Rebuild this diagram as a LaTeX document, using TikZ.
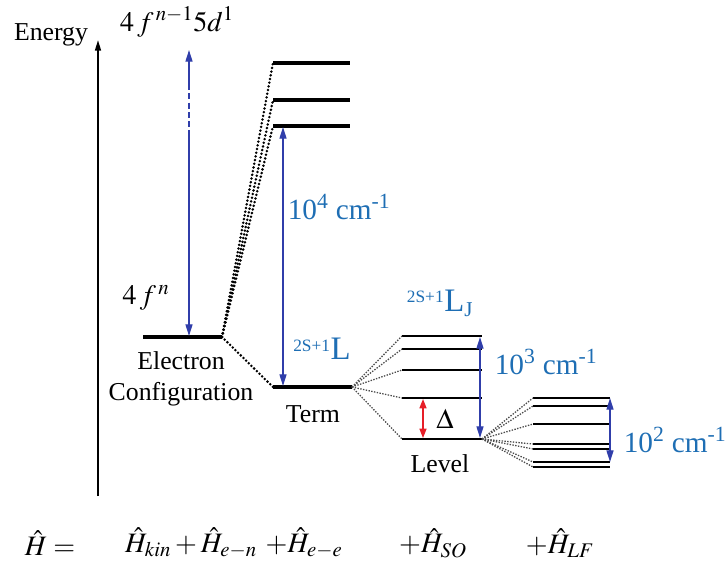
\documentclass[tikz,border=0pt]{standalone}
\usepackage{mathptmx}
\usepackage{fontspec}
\setmainfont{Liberation Serif}
\newfontfamily\tnr{Liberation Serif}
\usetikzlibrary{arrows.meta}

\definecolor{arrowblue}{RGB}{48,62,170}
\definecolor{textblue}{RGB}{30,110,180}
\definecolor{arrowred}{RGB}{230,30,40}

\begin{document}
\begin{tikzpicture}[x=0.03cm, y=-0.03cm,
  lev/.style={line width=4pt},
  sublev/.style={line width=1.8pt},
  bigdots/.style={line width=2.4pt, line cap=round, dash pattern=on 0pt off 3.2pt},
  fandots/.style={line width=1.1pt, dash pattern=on 1.2pt off 1.2pt, black!70},
  barr/.style={{Triangle[length=10pt,width=6pt]}-{Triangle[length=10pt,width=6pt]}, draw=arrowblue, fill=arrowblue, line width=1.2pt},
  lbl/.style={font=\tnr\fontsize{22}{26}\selectfont, inner sep=0pt, align=center},
  blbl/.style={lbl, font=\tnr\fontsize{25}{28}\selectfont, text=textblue}
]
\useasboundingbox (0,0) rectangle (728,561);

% energy axis
\coordinate (ax-bot) at (98,496);
\coordinate (ax-top) at (98,40);
\draw[line width=1.6pt, -{Triangle[length=9pt,width=5pt]}] (ax-bot) -- (ax-top);
\node[lbl] (energy) at (51,35) {Energy};

% electron configuration
\coordinate (cfg-l) at (143,337);
\coordinate (cfg-r) at (222,337);
\draw[lev] (cfg-l) -- (cfg-r);
\node[lbl, font=\fontsize{24}{26}\selectfont] (fn) at (146,298) {$4\,f^{\,n}$};
\node[lbl, font=\fontsize{24}{26}\selectfont] (fd) at (177,22) {$4\,f^{\,n-1}5d^{1}$};
\node[lbl] (cfg) at (181,379) {Electron\\Configuration};

% excited configuration levels
\foreach \n/\y in {a/63,b/100,c/126}{
  \coordinate (up\n-l) at (273,\y);
  \coordinate (up\n-r) at (350,\y);
  \draw[lev] (up\n-l) -- (up\n-r);
  \draw[bigdots] (cfg-r) -- (up\n-l);
}

% 4f -> 5d arrow
\coordinate (fd-top) at (189,50);
\coordinate (fd-d1) at (189,84);
\coordinate (fd-d2) at (189,130);
\coordinate (fd-bot) at (189,336);
\draw[arrowblue, line width=1.2pt, -{Triangle[length=10pt,width=6pt]}] (fd-d1) -- (fd-top);
\draw[arrowblue, line width=1.2pt, dash pattern=on 5pt off 3pt] (fd-d1) -- (fd-d2);
\draw[arrowblue, line width=1.2pt, -{Triangle[length=10pt,width=6pt]}] (fd-d2) -- (fd-bot);

% term
\coordinate (term-l) at (273,387);
\coordinate (term-r) at (352,387);
\draw[lev] (term-l) -- (term-r);
\draw[bigdots] (cfg-r) -- (term-l);
\node[lbl] (term) at (313,414) {Term};
\node[blbl] (termsym) at (322,349) {{\fontsize{20}{20}\selectfont\textsuperscript{2S+1}}\fontsize{28}{28}\selectfont L};

\coordinate (e4-top) at (283,127);
\coordinate (e4-bot) at (283,386);
\draw[barr] (e4-top) -- (e4-bot);
\node[blbl] (e4) at (339,207) {10\textsuperscript{4} cm\textsuperscript{-1}};

% levels (spin-orbit)
\foreach \i/\y in {1/336,2/349,3/370,4/398,5/439}{
  \coordinate (lv\i-l) at (402,\y);
  \coordinate (lv\i-r) at (482,\y);
  \draw[sublev] (lv\i-l) -- (lv\i-r);
  \draw[fandots] (term-r) -- (lv\i-l);
}
\node[blbl] (levsym) at (440,303) {{\fontsize{20}{20}\selectfont\textsuperscript{2S+1}}\fontsize{28}{28}\selectfont L\textsubscript{\fontsize{18}{18}\selectfont J}};
\node[lbl] (level) at (440,464) {Level};

\draw[barr] (480,337) coordinate (e3-top) -- (480,438) coordinate (e3-bot);
\node[blbl] (e3) at (546,362) {10\textsuperscript{3} cm\textsuperscript{-1}};

\draw[{Triangle[length=8pt,width=6pt]}-{Triangle[length=8pt,width=6pt]}, draw=arrowred, fill=arrowred, line width=1.2pt]
  (423,399) coordinate (dl-top) -- (423,438) coordinate (dl-bot);
\node[lbl, font=\fontsize{24}{26}\selectfont] (delta) at (445,419) {$\Delta$};

% ligand field
\foreach \i/\y in {1/398,2/406,3/424,4/444,5/449,6/462,7/467}{
  \coordinate (lf\i-l) at (533,\y);
  \coordinate (lf\i-r) at (610,\y);
  \draw[line width=1.5pt] (lf\i-l) -- (lf\i-r);
  \draw[fandots] (lv5-r) -- (lf\i-l);
}
\draw[barr] (610,398) coordinate (e2-top) -- (610,462) coordinate (e2-bot);
\node[blbl] (e2) at (675,440) {10\textsuperscript{2} cm\textsuperscript{-1}};

% hamiltonian
\begin{scope}[every node/.style={lbl, font=\fontsize{24}{26}\selectfont}]
\node (h0) at (50,543) {$\hat{H} =$};
\node (h1) at (191,543) {$\hat{H}_{kin}+\hat{H}_{e-n}$};
\node (h2) at (304,543) {$+\hat{H}_{e-e}$};
\node (h3) at (433,543) {$+\hat{H}_{SO}$};
\node (h4) at (560,543) {$+\hat{H}_{LF}$};
\end{scope}

\end{tikzpicture}
\end{document}
